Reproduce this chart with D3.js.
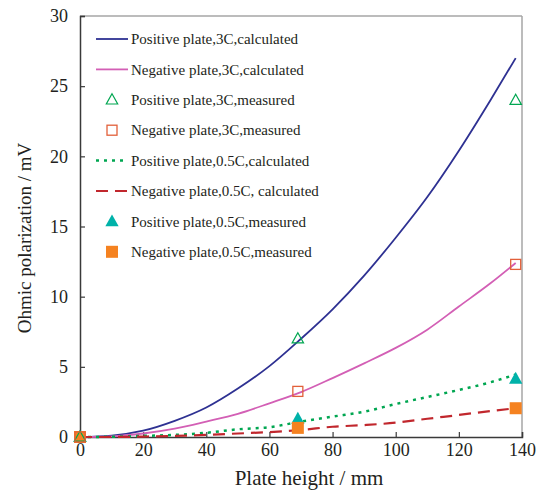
<!DOCTYPE html>
<html><head><meta charset="utf-8">
<script src="https://cdn.jsdelivr.net/npm/d3@7"></script>
<style>
html,body{margin:0;padding:0;background:#fff;}
svg text{font-family:"Liberation Serif","Times New Roman",serif;fill:#231f20;}
</style></head><body>
<svg id="chart" width="543" height="492"></svg>
<script>
// ---- data ----
const xCalc = [0, 10, 20, 30, 40, 50, 60, 70, 80, 90, 100, 110, 120, 130, 138];
const posCalc3C = [0, 0.1, 0.45, 1.15, 2.1, 3.45, 5.05, 7.0, 9.1, 11.5, 14.2, 17.1, 20.4, 24.0, 27.0];
const negCalc3C = [0, 0.05, 0.25, 0.6, 1.1, 1.65, 2.4, 3.2, 4.2, 5.25, 6.35, 7.65, 9.3, 10.95, 12.4];
const posCalc05C = [0, 0.02, 0.08, 0.15, 0.3, 0.55, 0.7, 1.1, 1.45, 1.8, 2.35, 2.85, 3.35, 3.9, 4.45];
const negCalc05C = [0, 0.0, 0.03, 0.08, 0.15, 0.25, 0.35, 0.5, 0.73, 0.85, 1.02, 1.3, 1.57, 1.85, 2.05];
const xMeas = [0, 69, 138];
const posMeas3C = [0, 7.0, 24.0];
const negMeas3C = [0, 3.25, 12.3];
const posMeas05C = [0, 1.3, 4.15];
const negMeas05C = [0, 0.65, 2.05];
const xTicks = [0, 20, 40, 60, 80, 100, 120, 140];
const yTicks = [0, 5, 10, 15, 20, 25, 30];
const legendLabels = [
  "Positive plate,3C,calculated",
  "Negative plate,3C,calculated",
  "Positive plate,3C,measured",
  "Negative plate,3C,measured",
  "Positive plate,0.5C,calculated",
  "Negative plate,0.5C, calculated",
  "Positive plate,0.5C,measured",
  "Negative plate,0.5C,measured"
];

// ---- layout ----
const svg = d3.select("#chart");
const L = 80, R = 522, T = 16, B = 437;
const x = d3.scaleLinear().domain([0, 140]).range([L, R]);
const y = d3.scaleLinear().domain([0, 30]).range([B, T]);
const SERIF = '"Liberation Serif","Times New Roman",serif';

// frame (top/right light gray)
svg.append("line").attr("x1", L).attr("x2", R).attr("y1", T).attr("y2", T).attr("stroke", "#a6a6a6").attr("stroke-width", 1.5);
svg.append("line").attr("x1", R).attr("x2", R).attr("y1", T).attr("y2", B).attr("stroke", "#a6a6a6").attr("stroke-width", 1.5);

const xAxis = d3.axisBottom(x).tickValues(xTicks).tickSize(-5).tickPadding(6).tickFormat(d3.format("d"));
const yAxis = d3.axisLeft(y).tickValues(yTicks).tickSize(-5).tickPadding(12).tickFormat(d3.format("d"));

const gx = svg.append("g").attr("transform", `translate(0,${B})`).call(xAxis);
const gy = svg.append("g").attr("transform", `translate(${L},0)`).call(yAxis);
[gx, gy].forEach(g => {
  g.attr("font-family", null).style("font-family", SERIF).attr("font-size", 18);
  g.select(".domain").attr("stroke", "#3a3a3a").attr("stroke-width", 1.5);
  g.selectAll(".tick line").attr("stroke", "#3a3a3a").attr("stroke-width", 1.2);
  g.selectAll(".tick text").style("font-family", SERIF).attr("font-size", 18).attr("fill", "#231f20");
});

// axis titles
svg.append("text").attr("x", 309).attr("y", 485).attr("text-anchor", "middle")
  .style("font-family", SERIF).attr("font-size", 21).text("Plate height / mm");
svg.append("text").attr("transform", `translate(31,238) rotate(-90)`).attr("text-anchor", "middle")
  .style("font-family", SERIF).attr("font-size", 19).text("Ohmic polarization / mV");

// ---- lines ----
const lineGen = d3.line().x(d => x(d[0])).y(d => y(d[1])).curve(d3.curveMonotoneX);
const zip = (xs, ys) => xs.map((v, i) => [v, ys[i]]);
const series = [
  {data: posCalc3C, color: "#2e3192", width: 1.8, dash: null},
  {data: negCalc3C, color: "#d35fb5", width: 1.8, dash: null},
  {data: posCalc05C, color: "#00a651", width: 2.5, dash: "3,5"},
  {data: negCalc05C, color: "#c1272d", width: 2.2, dash: "12,7"}
];
series.forEach(s => {
  svg.append("path").datum(zip(xCalc, s.data)).attr("d", lineGen)
    .attr("fill", "none").attr("stroke", s.color).attr("stroke-width", s.width)
    .attr("stroke-dasharray", s.dash);
});

// ---- markers ----
const triPath = (cx, cy, r) => `M${cx},${cy - r}L${cx + r * 0.95},${cy + r * 0.7}L${cx - r * 0.95},${cy + r * 0.7}Z`;
function drawMarker(g, type, cx, cy) {
  if (type === "openTri") g.append("path").attr("d", triPath(cx, cy, 6)).attr("fill", "none").attr("stroke", "#00a651").attr("stroke-width", 1.2);
  if (type === "openSq") g.append("rect").attr("x", cx - 5).attr("y", cy - 5).attr("width", 10).attr("height", 10).attr("fill", "none").attr("stroke", "#e2603a").attr("stroke-width", 1.3);
  if (type === "fillTri") g.append("path").attr("d", triPath(cx, cy, 7)).attr("fill", "#00b2a9");
  if (type === "fillSq") g.append("rect").attr("x", cx - 6).attr("y", cy - 6).attr("width", 12).attr("height", 12).attr("fill", "#f58220");
}
const mg = svg.append("g");
const measured = [
  {ys: posMeas05C, type: "fillTri"},
  {ys: negMeas05C, type: "fillSq"},
  {ys: posMeas3C, type: "openTri"},
  {ys: negMeas3C, type: "openSq"}
];
measured.forEach(m => xMeas.forEach((xv, i) => drawMarker(mg, m.type, x(xv), y(m.ys[i]))));

// ---- legend ----
const lg = svg.append("g");
const legendItems = [
  {kind: "line", color: "#2e3192", width: 1.8, dash: null},
  {kind: "line", color: "#d35fb5", width: 1.8, dash: null},
  {kind: "openTri"},
  {kind: "openSq"},
  {kind: "line", color: "#00a651", width: 2.5, dash: "3,5"},
  {kind: "line", color: "#c1272d", width: 2.2, dash: "12,7"},
  {kind: "fillTri"},
  {kind: "fillSq"}
];
legendLabels.forEach((lab, i) => {
  const cy = 39 + i * 30.4;
  const it = legendItems[i];
  if (it.kind === "line") {
    lg.append("line").attr("x1", 96).attr("x2", 128).attr("y1", cy).attr("y2", cy)
      .attr("stroke", it.color).attr("stroke-width", it.width).attr("stroke-dasharray", it.dash);
  } else {
    drawMarker(lg, it.kind, 112, cy);
  }
  lg.append("text").attr("x", 131).attr("y", cy).attr("dy", "0.35em")
    .style("font-family", SERIF).attr("font-size", 15).text(lab);
});
</script>
</body></html>
